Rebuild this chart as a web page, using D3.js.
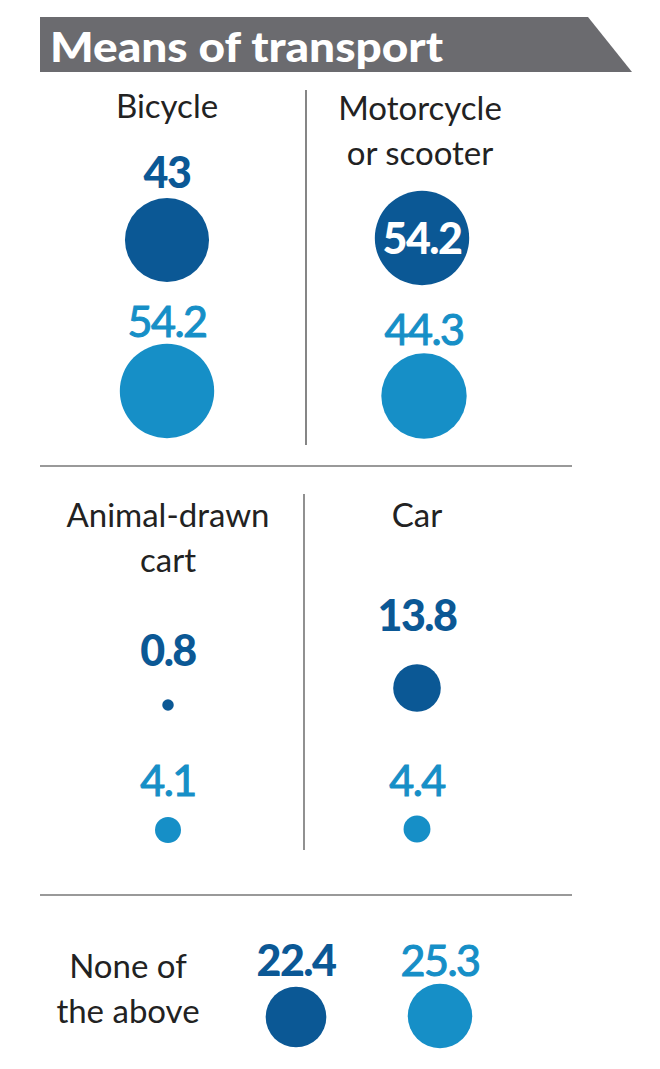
<!DOCTYPE html>
<html><head><meta charset="utf-8">
<script src="https://cdn.jsdelivr.net/npm/d3@7"></script>
<style>body{margin:0;background:#fff}svg{display:block}</style>
</head><body>
<script>
// ---- data ----
const title = "Means of transport";
const categories = [["Bicycle"], ["Motorcycle", "or scooter"], ["Animal-drawn", "cart"], ["Car"], ["None of", "the above"]];
const darkValues = [43, 54.2, 0.8, 13.8, 22.4];
const lightValues = [54.2, 44.3, 4.1, 4.4, 25.3];

// ---- layout ----
const W = 660, H = 1069;
const darkCol = "#0b5895", lightCol = "#168fc7";
const fontNum = "Lato, 'Open Sans', sans-serif";
const layout = [
  {lx:167, ly:118, dx:167, dy:240, dly:188, lxl:167, lcy:391, lly:337, inside:false},
  {lx:420, ly:120, dx:422, dy:238, dly:254, lxl:424, lcy:396, lly:345, inside:true},
  {lx:168, ly:527, dx:168, dy:705, dly:666, lxl:168, lcy:830, lly:796, inside:false},
  {lx:417, ly:527, dx:417, dy:688, dly:631, lxl:417, lcy:829, lly:796, inside:false},
  {lx:128, ly:978, dx:296, dy:1017, dly:976, lxl:440, lcy:1016, lly:976, inside:false}
];

const svg = d3.select("body").append("svg").attr("width", W).attr("height", H);
const r = d3.scaleSqrt().domain([0, 54.2]).range([0, 47.2]);
const fmt = v => String(v);

// banner
svg.append("path").attr("d", "M40,17 L588,17 L632,72 L40,72 Z").attr("fill", "#6b6b6f");
svg.append("text").attr("x", 50).attr("y", 62).text(title)
  .attr("fill", "#fff").attr("font-family", fontNum).attr("font-weight", 900)
  .attr("font-size", 41).attr("textLength", 393).attr("lengthAdjust", "spacingAndGlyphs");

// dividers
const lines = [
  [306, 90, 306, 445, "#444"], [40, 466, 572, 466, "#777"],
  [304, 494, 304, 850, "#555"], [40, 895, 572, 895, "#777"]
];
svg.selectAll("line.div").data(lines).join("line")
  .attr("x1", d => d[0]).attr("y1", d => d[1]).attr("x2", d => d[2]).attr("y2", d => d[3])
  .attr("stroke", d => d[4]).attr("stroke-width", 1.3);

const g = svg.selectAll("g.panel").data(categories.map((c, i) => ({c, i, d: darkValues[i], l: lightValues[i], p: layout[i]})))
  .join("g");

g.each(function(o) {
  const s = d3.select(this), p = o.p;
  s.append("text").attr("x", p.lx).attr("y", p.ly).attr("text-anchor", "middle")
    .attr("font-family", fontNum).attr("font-size", 33).attr("fill", "#222")
    .selectAll("tspan").data(o.c).join("tspan")
    .attr("x", p.lx).attr("dy", (d, j) => j ? 45 : 0).text(d => d);
  s.append("circle").attr("cx", p.dx).attr("cy", p.dy).attr("r", r(o.d)).attr("fill", darkCol);
  s.append("circle").attr("cx", p.lxl).attr("cy", p.lcy).attr("r", r(o.l)).attr("fill", lightCol);
  s.append("text").attr("x", p.dx).attr("y", p.dly).attr("text-anchor", "middle")
    .attr("font-family", fontNum).attr("font-weight", 900).attr("font-size", 43)
    .attr("letter-spacing", -1.5)
    .attr("fill", p.inside ? "#fff" : darkCol).text(fmt(o.d));
  s.append("text").attr("x", p.lxl).attr("y", p.lly).attr("text-anchor", "middle")
    .attr("font-family", fontNum).attr("font-weight", 400).attr("font-size", 43)
    .attr("letter-spacing", -1.5)
    .attr("stroke", lightCol).attr("stroke-width", 1.1)
    .attr("fill", lightCol).text(fmt(o.l));
});
</script>
</body></html>
